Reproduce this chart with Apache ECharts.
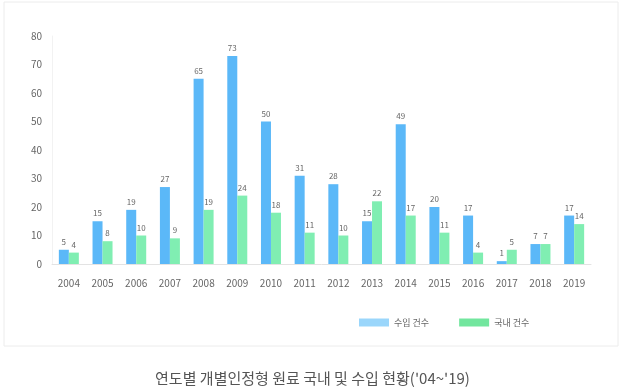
<!DOCTYPE html>
<html><head><meta charset="utf-8">
<script src="https://cdn.jsdelivr.net/npm/echarts@6/dist/echarts.min.js"></script>
<style>html,body{margin:0;padding:0;background:#fff}#c{width:625px;height:392px}</style>
</head><body><div id="c"></div>
<script>
const years = ['2004','2005','2006','2007','2008','2009','2010','2011','2012','2013','2014','2015','2016','2017','2018','2019'];
const importCounts = [5,15,19,27,65,73,50,31,28,15,49,20,17,1,7,17];
const domesticCounts = [4,8,10,9,19,24,18,11,10,22,17,11,4,5,7,14];
const seriesNames = ['수입 건수','국내 건수'];
const title = "연도별 개별인정형 원료 국내 및 수입 현황('04~'19)";

const chart = echarts.init(document.getElementById('c'), null, {renderer:'canvas'});
const font = 'Noto Sans CJK KR, Noto Sans, sans-serif';
chart.setOption({
  animation:false,
  textStyle:{fontFamily:font},
  graphic:[{type:'rect',shape:{x:4,y:2,width:614,height:344},style:{fill:'#fff',stroke:'#ececec',lineWidth:1},z:-10}],
  title:{text:title,left:'center',top:366,textStyle:{fontSize:15,fontWeight:'normal',color:'#555',fontFamily:font}},
  legend:{data:[{name:seriesNames[0],itemStyle:{color:'#9ad6fb'}},{name:seriesNames[1],itemStyle:{color:'#72e69e'}}],
    left:354,top:313,itemWidth:30,itemHeight:8,itemGap:30,icon:'rect',
    textStyle:{fontSize:9,color:'#666',fontFamily:font}},
  grid:{left:52,right:34,top:36,bottom:128},
  xAxis:{type:'category',data:years,
    axisLine:{lineStyle:{color:'#e3e3e3'}},axisTick:{show:false},
    axisLabel:{color:'#666',fontSize:10,margin:14,fontFamily:font}},
  yAxis:{type:'value',min:0,max:80,interval:10,
    axisLine:{show:true,lineStyle:{color:'#f2f2f2'}},splitLine:{show:false},
    axisLabel:{color:'#666',fontSize:10,margin:10,fontFamily:font}},
  series:[
    {name:seriesNames[0],type:'bar',data:importCounts,barWidth:10,barGap:'0%',
     itemStyle:{color:'#5bb8f8'},
     label:{show:true,position:'top',fontSize:8,color:'#666',distance:4}},
    {name:seriesNames[1],type:'bar',data:domesticCounts,barWidth:10,
     itemStyle:{color:'#80eeb2'},
     label:{show:true,position:'top',fontSize:8,color:'#666',distance:4}}
  ]
});
</script></body></html>
